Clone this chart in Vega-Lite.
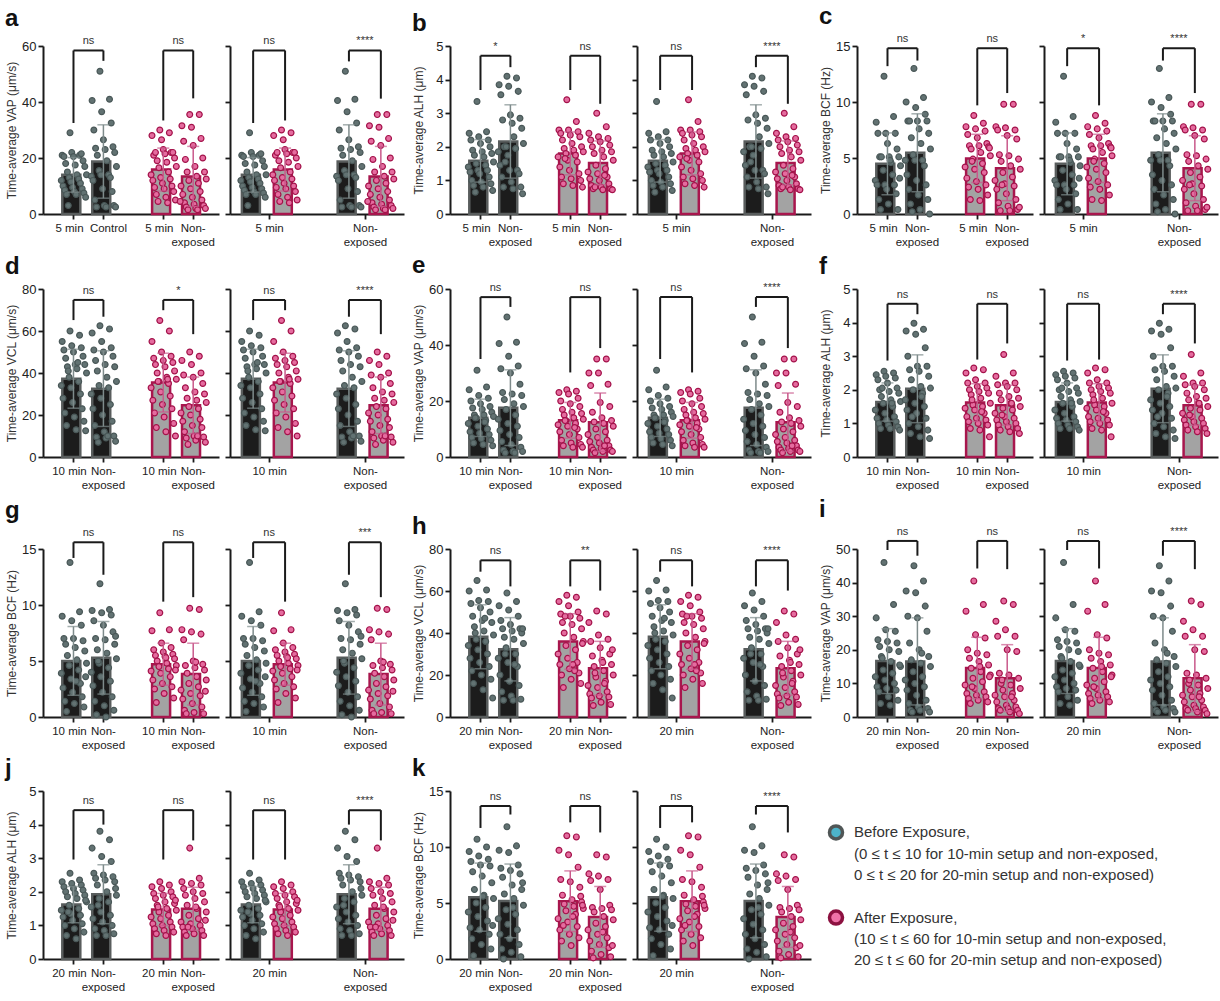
{
"$schema":"https://vega.github.io/schema/vega-lite/v6.json",
"background":"white",
"padding":5,
"datasets":{
"pts":[
{"p":"a","k":"AB","v":[29,21,21,22,21.5,20.5,20.5,19,18,17.5,17,15,14,14,13,12.5,12,11.5,11,10,9.5,9,8.5,8,7.5,7,7,6,3]},
{"p":"a","k":"NB","v":[51,41,40.5,36.5,32.5,30,26.5,24,23.5,23,22,21,19,17,15.5,14,13.5,14,13,12,9,8,5,3,3,2.5,2.5,2.5]},
{"p":"a","k":"AA","v":[30,29,28,26.5,22,21,23,22,22,21.5,20,19,18.5,17,16.5,15,14,13,12.5,12,11,10,9.5,9,8,7,6,5,4.5,4]},
{"p":"a","k":"NA","v":[35.5,35.5,31.5,31,27,26,24.5,20,19.5,17,15,15,13.5,12.5,12,11,10,9,8,7,6,5,4,3.5,3,2.5,2,2,1.5,1.5,4.5]},
{"p":"b","k":"AB","v":[3.35,2.45,2.4,2.3,2.2,2.2,2.1,2.0,1.9,1.85,1.8,1.75,1.7,1.55,1.5,1.45,1.4,1.3,1.3,1.25,1.2,1.1,1.0,0.95,0.9,0.85,0.8,0.7,0.65]},
{"p":"b","k":"NB","v":[4.1,4.05,3.85,3.8,3.65,3.55,2.95,2.85,2.8,2.7,2.55,2.0,2.3,2.1,2.0,1.95,1.85,1.75,1.3,1.45,1.3,1.2,1.1,0.95,0.8,0.8,0.75,0.6,1.55]},
{"p":"b","k":"AA","v":[3.4,2.75,2.5,2.5,2.45,2.4,2.35,2.3,2.2,2.1,2.0,1.95,1.9,1.85,1.8,1.75,1.7,1.6,1.55,1.4,1.3,1.2,1.1,1.05,1.0,0.9,0.85,0.8,1.65]},
{"p":"b","k":"NA","v":[3.0,2.6,2.4,2.3,2.25,2.2,2.15,2.05,2.0,1.9,1.85,1.8,1.7,1.6,1.45,1.35,1.25,1.2,1.1,1.05,1.0,0.9,0.85,0.8,0.75,0.75,0.72,0.72,0.8,1.15]},
{"p":"c","k":"AB","v":[12.3,8.7,8.2,7.2,7.2,7.2,6.3,5.8,5.1,5.1,5.1,5.1,4.6,4.3,3.9,3.5,3.0,2.6,2.6,2.6,2.2,1.8,1.3,0.9,0.4,0.4,4.8,3.2]},
{"p":"c","k":"NB","v":[13.0,10.4,10.0,9.5,8.9,8.3,8.3,8.3,8.3,7.6,7.2,6.8,6.3,5.8,5.3,4.8,4.8,4.8,4.3,3.5,3.0,2.6,2.2,1.7,1.3,0.9,0.4,0.0,0.2]},
{"p":"c","k":"AA","v":[8.8,8.1,7.8,7.6,7.4,7.1,6.8,6.3,6.1,6.1,6.0,5.8,5.5,5.2,4.9,4.5,4.2,4.0,3.7,3.2,2.9,2.6,2.4,2.2,1.7,1.3,1.2,5.9,4.7]},
{"p":"c","k":"NA","v":[9.8,9.8,7.8,7.7,7.5,7.5,7.0,6.7,5.3,5.2,4.9,4.7,4.3,4.0,3.7,3.3,3.0,2.7,2.5,2.2,1.8,1.3,1.0,0.7,0.4,0.3,0.3,0.6,2.6]},
{"p":"d","k":"AB","v":[60,58,55,53,52,51,50,48,47,44,44,43,42,40,38,36,34,33,30,28,26,23,21,19,17,15,13,12.5,41,45]},
{"p":"d","k":"NB","v":[62.5,61,59,55,52,51,50,48,46,44,43,41,38,36,34,33,30,28,25,23,20,17,15,12,10,9.5,9,7.5,7,10]},
{"p":"d","k":"AA","v":[65,60,55,50,48,47,46,45,44,43,41,40,38,37,36,35,33,31,29,27,25,23,21,19,16,14,12,10,36,37]},
{"p":"d","k":"NA","v":[50,48,46,44,40,39,38,35,33,31,30,28,27,26,24,23,21,20,18,17,15,14,12,10,9.5,9,8,7,6,10]},
{"p":"e","k":"AB","v":[31,25,24,22,21,20,19,18,17.5,17,16,15,15,14.5,14,13,12,11,10,9,8.5,8,7,6.5,6,5,4.5,4,14,12.5]},
{"p":"e","k":"NB","v":[50,41,40.5,36,32.5,31.5,30,26,23,22.5,22,20.5,19,18,17,15,13.5,12,11,9.5,8,7,5.5,4.5,3.5,2.5,2,2,1.5,1.5]},
{"p":"e","k":"AA","v":[24,23.5,23,22.5,21,20,19,18,17,16,15.5,15,14,13.5,13,12,11.5,11,10,9,8,7,6,5,4.5,4,3.5,3.5,13,10.5]},
{"p":"e","k":"NA","v":[35,35,30,30,26,25.5,19.5,18,16,14,13,12.5,12,11,10,9,8,7,6,5.5,5,4,3.5,3,2.5,2.5,2,2,1.5,4]},
{"p":"f","k":"AB","v":[2.55,2.5,2.45,2.4,2.35,2.3,2.2,2.05,2.0,1.95,1.9,1.8,1.7,1.65,1.6,1.5,1.4,1.3,1.2,1.15,1.1,1.05,1.0,0.95,0.9,0.85,0.85,0.8,2.05,1.6]},
{"p":"f","k":"NB","v":[3.98,3.8,3.75,3.65,3.25,3.0,2.7,2.7,2.6,2.55,2.4,2.3,2.1,2.05,2.0,1.9,1.7,1.6,1.5,1.4,1.3,1.15,1.0,0.9,0.8,0.7,0.6,0.55,1.2,1.8]},
{"p":"f","k":"AA","v":[2.65,2.6,2.5,2.3,2.2,2.2,2.1,2.05,2.0,1.95,1.9,1.85,1.75,1.6,1.55,1.5,1.45,1.4,1.3,1.2,1.15,1.1,1.05,1.0,0.95,0.85,0.8,0.6,1.7,1.35]},
{"p":"f","k":"NA","v":[3.05,2.5,2.4,2.2,2.2,2.15,2.1,2.0,1.9,1.8,1.75,1.7,1.6,1.5,1.45,1.4,1.3,1.2,1.15,1.1,1.05,1.0,0.95,0.9,0.85,0.8,0.75,0.7,1.25,1.6]},
{"p":"g","k":"AB","v":[13.8,9.4,9.0,8.6,8.2,7.0,7.0,6.8,6.5,6.2,5.9,5.5,5.1,4.8,4.6,4.2,3.9,3.4,3.0,2.6,2.2,1.8,1.4,1.2,0.9,0.5,3.2,3.6]},
{"p":"g","k":"NB","v":[11.9,9.6,9.5,9.3,9.1,8.6,8.2,7.6,7.0,6.9,6.5,6.0,5.7,5.2,4.8,4.4,4.0,3.6,3.2,2.8,2.2,1.8,1.4,1.0,0.6,0.2,0.0,7.2,5.0]},
{"p":"g","k":"AA","v":[9.3,7.8,7.7,6.6,6.2,6.0,5.8,5.6,5.5,5.4,5.2,5.0,4.8,4.6,4.5,4.3,4.1,3.9,3.6,3.3,3.0,2.7,2.5,2.1,1.7,1.3,5.3,4.2]},
{"p":"g","k":"NA","v":[9.7,9.6,7.8,7.6,7.4,6.9,5.0,4.7,4.6,4.4,4.2,3.9,3.6,3.3,3.0,2.7,2.4,2.1,1.9,1.6,1.2,0.9,0.6,0.4,0.3,0.3,4.9,2.3]},
{"p":"h","k":"AB","v":[65,60.5,60,55.5,55,54,52,50,48,46,45,43,41,39,37,36,34,32,30,28,26,24,22,20,18,16,13,9,40,47]},
{"p":"h","k":"NB","v":[59,55,53,51,48,46,44,42,42,41,40,38,37,35,33,30,28,26,24,20,17,15,12,10,8.5,8,8,42,30,25]},
{"p":"h","k":"AA","v":[58,57,55,53,50,49,48,47,45,44,42,40,38,36,34,32,30,28,26,25,23,21,20,18,16,14,25,35,48,22]},
{"p":"h","k":"NA","v":[50.5,49,45,39,37,36,33,30,29,27,25,24,22,20,19,17,15,14,12,11,10,9.5,9,7,6,5.5,26,32,21,16]},
{"p":"i","k":"AB","v":[46,33.5,29.5,26,25.5,23,22.5,22,21,20,19.5,18,16.5,15,14,13,12,11,10,9,8.5,8,7.5,6,5,4,3.5,15.5,17.5]},
{"p":"i","k":"NB","v":[45,40.5,37.5,37,33,30,29.5,25.5,22,20,18,17,16,15,13.5,12,11,10,9,8,6.5,5,4,3,2.5,2,2,1.5,1.5,19]},
{"p":"i","k":"AA","v":[40.5,33.5,31.5,24.5,23.5,20,19,18.5,17.5,16.5,15.5,14.5,13.5,12.5,11.5,10.5,9.5,8.5,7.5,7,6.5,6,5.5,5,4.5,4,15,12,9]},
{"p":"i","k":"NA","v":[34.5,33.5,28.5,26,24,24,20,19.5,13,12.5,11.5,10,9.5,8.5,8,7,6.5,6,5,4.5,3.5,3,2.5,2.5,2,2,1.5,1,11,6]},
{"p":"j","k":"AB","v":[2.55,2.35,2.3,2.25,2.2,2.15,2.1,2.05,2.0,1.95,1.9,1.85,1.8,1.7,1.6,1.5,1.45,1.35,1.3,1.25,1.15,1.05,1.0,0.9,0.8,0.7,0.6,1.75,1.4]},
{"p":"j","k":"NB","v":[3.8,3.55,3.3,3.05,2.9,2.55,2.5,2.45,2.4,2.35,2.3,2.2,2.0,1.9,1.8,1.7,1.55,1.4,1.3,1.2,1.1,1.0,0.9,0.85,0.75,0.7,0.7,2.1,1.6]},
{"p":"j","k":"AA","v":[2.3,2.2,2.15,2.1,2.0,1.95,1.9,1.85,1.8,1.7,1.65,1.6,1.5,1.45,1.4,1.3,1.25,1.2,1.1,1.05,1.0,0.95,0.9,0.85,0.8,0.75,0.7,1.75,1.55]},
{"p":"j","k":"NA","v":[3.3,2.4,2.3,2.25,2.2,2.1,2.0,1.95,1.9,1.8,1.7,1.6,1.5,1.4,1.3,1.2,1.1,1.05,1.0,0.95,0.9,0.85,0.8,0.75,0.7,0.7,1.55,1.15,0.95]},
{"p":"k","k":"AB","v":[10.7,10.0,9.6,9.2,8.9,8.7,8.4,8.3,7.8,7.4,6.8,6.2,5.7,5.4,5.0,4.6,4.2,3.8,3.4,2.8,2.6,2.2,1.8,1.3,0.9,0.3,5.6,3.0]},
{"p":"k","k":"NB","v":[11.8,10.1,9.7,9.5,8.4,8.1,7.9,7.6,7.3,6.6,6.2,5.8,5.4,4.8,4.4,4.0,3.6,3.1,2.6,2.2,1.8,1.3,0.9,0.6,0.2,0.0,4.6,6.8]},
{"p":"k","k":"AA","v":[11.0,10.9,9.7,9.3,8.2,7.1,6.9,6.4,5.7,5.3,5.1,4.9,4.7,4.5,4.3,4.0,3.6,3.3,2.9,2.6,2.2,1.9,1.6,1.2,5.6,3.0,3.8,4.8]},
{"p":"k","k":"NA","v":[9.3,9.1,7.6,7.4,7.1,7.0,6.2,4.8,4.6,4.5,4.4,4.2,3.8,3.5,3.2,2.9,2.6,2.2,1.9,1.6,1.3,1.0,0.7,0.4,0.2,0.1,2.4,1.2]}
],
"br":[
{"p":"a","s":"L","a":"AB","b":"NB","ya":32.5,"yb":54.7,"top":58.4,"lab":"ns"},
{"p":"a","s":"L","a":"AA","b":"NA","ya":33.4,"yb":41.3,"top":58.4,"lab":"ns"},
{"p":"a","s":"R","a":"AB","b":"AA","ya":32.5,"yb":33.4,"top":58.4,"lab":"ns"},
{"p":"a","s":"R","a":"NB","b":"NA","ya":54.5,"yb":41.2,"top":58.4,"lab":"****"},
{"p":"b","s":"L","a":"AB","b":"NB","ya":3.69,"yb":4.37,"top":4.71,"lab":"*"},
{"p":"b","s":"L","a":"AA","b":"NA","ya":3.69,"yb":3.28,"top":4.71,"lab":"ns"},
{"p":"b","s":"R","a":"AB","b":"AA","ya":3.69,"yb":3.69,"top":4.71,"lab":"ns"},
{"p":"b","s":"R","a":"NB","b":"NA","ya":4.37,"yb":3.28,"top":4.71,"lab":"****"},
{"p":"c","s":"L","a":"AB","b":"NB","ya":13.2,"yb":13.7,"top":14.8,"lab":"ns"},
{"p":"c","s":"L","a":"AA","b":"NA","ya":9.7,"yb":10.8,"top":14.8,"lab":"ns"},
{"p":"c","s":"R","a":"AB","b":"AA","ya":13.2,"yb":9.7,"top":14.8,"lab":"*"},
{"p":"c","s":"R","a":"NB","b":"NA","ya":13.7,"yb":10.8,"top":14.8,"lab":"****"},
{"p":"d","s":"L","a":"AB","b":"NB","ya":65.2,"yb":66.8,"top":74.8,"lab":"ns"},
{"p":"d","s":"L","a":"AA","b":"NA","ya":69.9,"yb":58.5,"top":74.8,"lab":"*"},
{"p":"d","s":"R","a":"AB","b":"AA","ya":65.2,"yb":69.9,"top":74.8,"lab":"ns"},
{"p":"d","s":"R","a":"NB","b":"NA","ya":66.8,"yb":58.5,"top":74.8,"lab":"****"},
{"p":"e","s":"L","a":"AB","b":"NB","ya":35,"yb":53.6,"top":57.1,"lab":"ns"},
{"p":"e","s":"L","a":"AA","b":"NA","ya":30.2,"yb":38.9,"top":57.1,"lab":"ns"},
{"p":"e","s":"R","a":"AB","b":"AA","ya":35,"yb":30.2,"top":57.1,"lab":"ns"},
{"p":"e","s":"R","a":"NB","b":"NA","ya":53.6,"yb":38.9,"top":57.1,"lab":"****"},
{"p":"f","s":"L","a":"AB","b":"NB","ya":2.87,"yb":4.25,"top":4.56,"lab":"ns"},
{"p":"f","s":"L","a":"AA","b":"NA","ya":2.9,"yb":3.38,"top":4.56,"lab":"ns"},
{"p":"f","s":"R","a":"AB","b":"AA","ya":2.87,"yb":2.9,"top":4.56,"lab":"ns"},
{"p":"f","s":"R","a":"NB","b":"NA","ya":4.25,"yb":3.38,"top":4.56,"lab":"****"},
{"p":"g","s":"L","a":"AB","b":"NB","ya":14.2,"yb":12.7,"top":15.6,"lab":"ns"},
{"p":"g","s":"L","a":"AA","b":"NA","ya":10.3,"yb":10.7,"top":15.6,"lab":"ns"},
{"p":"g","s":"R","a":"AB","b":"AA","ya":14.2,"yb":10.3,"top":15.6,"lab":"ns"},
{"p":"g","s":"R","a":"NB","b":"NA","ya":12.7,"yb":10.7,"top":15.6,"lab":"***"},
{"p":"h","s":"L","a":"AB","b":"NB","ya":69.2,"yb":62.2,"top":74.6,"lab":"ns"},
{"p":"h","s":"L","a":"AA","b":"NA","ya":62.2,"yb":60.2,"top":74.6,"lab":"**"},
{"p":"h","s":"R","a":"AB","b":"AA","ya":69.2,"yb":62.2,"top":74.6,"lab":"ns"},
{"p":"h","s":"R","a":"NB","b":"NA","ya":62.2,"yb":60.2,"top":74.6,"lab":"****"},
{"p":"i","s":"L","a":"AB","b":"NB","ya":49.7,"yb":48,"top":52.4,"lab":"ns"},
{"p":"i","s":"L","a":"AA","b":"NA","ya":44.2,"yb":44,"top":52.4,"lab":"ns"},
{"p":"i","s":"R","a":"AB","b":"AA","ya":49.7,"yb":44.2,"top":52.4,"lab":"ns"},
{"p":"i","s":"R","a":"NB","b":"NA","ya":48,"yb":44,"top":52.4,"lab":"****"},
{"p":"j","s":"L","a":"AB","b":"NB","ya":2.96,"yb":4.0,"top":4.43,"lab":"ns"},
{"p":"j","s":"L","a":"AA","b":"NA","ya":2.96,"yb":3.53,"top":4.43,"lab":"ns"},
{"p":"j","s":"R","a":"AB","b":"AA","ya":2.96,"yb":2.96,"top":4.43,"lab":"ns"},
{"p":"j","s":"R","a":"NB","b":"NA","ya":4.0,"yb":3.53,"top":4.43,"lab":"****"},
{"p":"k","s":"L","a":"AB","b":"NB","ya":11.7,"yb":12.9,"top":13.66,"lab":"ns"},
{"p":"k","s":"L","a":"AA","b":"NA","ya":12.2,"yb":11.3,"top":13.66,"lab":"ns"},
{"p":"k","s":"R","a":"AB","b":"AA","ya":11.7,"yb":12.2,"top":13.66,"lab":"ns"},
{"p":"k","s":"R","a":"NB","b":"NA","ya":12.9,"yb":11.3,"top":13.66,"lab":"****"}
]
},
"data":{"name":"pts"},
"transform":[{"flatten":["v"]},{"window":[{"op":"row_number","as":"i"}],"groupby":["p","k"]}],
"config":{
"font":"Liberation Sans",
"view":{"stroke":null},
"axis":{"domainColor":"#1a1a1a","domainWidth":2,"tickColor":"#1a1a1a","tickWidth":1.8,"tickSize":5,"labelFontSize":11.5,"labelColor":"#222","titleFontSize":12,"titleFontWeight":"normal","titleColor":"#333","grid":false,"labelPadding":2,"titlePadding":3,"labelLineHeight":14},
"axisX":{"labelAngle":0,"labelPadding":3,"bandPosition":0.5},
"axisY":{"labelFontSize":13,"minExtent":22},
"rule":{"color":"#1a1a1a","strokeWidth":2},
"text":{"fontSize":11,"color":"#333"},
"title":{"fontSize":24,"fontWeight":"bold","anchor":"start","offset":0,"color":"#111"}
},
"spacing":6,
"vconcat":[
{"spacing":8,"hconcat":[
{"title":"a","spacing":5,"hconcat":[
{"width":176,"height":168,"transform":[{"filter":"datum.p=='a'"}],
"encoding":{"x":{"field":"k","type":"nominal","scale":{"domain":["AB","NB","_","AA","NA"],"paddingInner":0.1,"paddingOuter":0.49,"align":0.58},"axis":{"values":["AB","NB","AA","NA"],"labelExpr":"datum.value=='NB'?'Control':datum.value=='NA'?['Non-','exposed']:'5 min'","labelOffset":{"condition":[{"test":"datum.value=='AB'||datum.value=='AA'","value":-4},{"test":"datum.value=='NB'","value":5}],"value":0},"title":null}},
"y":{"field":"v","type":"quantitative","scale":{"domain":[0,60]},"axis":{"values":[0,20,40,60],"title":"Time-average VAP (μm/s)"}}},
"layer":[
{"mark":{"type":"bar","strokeWidth":2.5,"width":{"band":0.83}},"encoding":{"y":{"aggregate":"mean","field":"v","type":"quantitative"},"fill":{"condition":{"test":"datum.k=='AB'||datum.k=='NB'","value":"#1c1c1c"},"value":"#a3a3a3"},"stroke":{"condition":{"test":"datum.k=='AB'||datum.k=='NB'","value":"#595d5d"},"value":"#a8164d"}}},
{"mark":{"type":"circle","size":34,"strokeWidth":1.2,"opacity":1},"encoding":{"xOffset":{"field":"i","type":"nominal","scale":{"domain":[31,17,3,20,6,23,9,26,12,29,15,1,18,4,21,7,24,10,27,13,30,16,2,19,5,22,8,25,11,28,14]}},"fill":{"condition":{"test":"datum.k=='AB'||datum.k=='NB'","value":"#627272"},"value":"#e56c9f"},"stroke":{"condition":{"test":"datum.k=='AB'||datum.k=='NB'","value":"#4a5858"},"value":"#a3124a"}}},
{"mark":{"type":"errorbar","extent":"stdev","ticks":{"size":12},"thickness":1.5},"encoding":{"color":{"condition":{"test":"datum.k=='AB'||datum.k=='NB'","value":"#7e8b8b"},"value":"#c9598b"}}},
{"data":{"name":"br"},"transform":[{"filter":"datum.p=='a'&&datum.s=='L'"}],"layer":[
{"mark":"rule","encoding":{"x":{"field":"a","type":"nominal"},"y":{"field":"ya","type":"quantitative"},"y2":{"field":"top"}}},
{"mark":"rule","encoding":{"x":{"field":"b","type":"nominal"},"y":{"field":"yb","type":"quantitative"},"y2":{"field":"top"}}},
{"mark":"rule","encoding":{"x":{"field":"a","type":"nominal"},"x2":{"field":"b"},"y":{"field":"top","type":"quantitative"}}},
{"mark":{"type":"text","dx":15,"dy":-4,"baseline":"bottom"},"encoding":{"x":{"field":"a","type":"nominal"},"y":{"field":"top","type":"quantitative"},"text":{"field":"lab"}}}
]}
]},
{"width":174,"height":168,"transform":[{"filter":"datum.p=='a'"}],
"encoding":{"x":{"field":"k","type":"nominal","scale":{"domain":["AB","AA","_","NB","NA"],"paddingInner":0.15,"paddingOuter":0.3},"axis":{"values":["AB","NB"],"labelExpr":"datum.value=='AB'?'5 min':['Non-','exposed']","tickOffset":16,"title":null}},
"y":{"field":"v","type":"quantitative","scale":{"domain":[0,60]},"axis":{"values":[0,20,40,60],"labels":false,"title":null,"minExtent":0}}},
"layer":[
{"mark":{"type":"bar","strokeWidth":2.5,"width":{"band":0.83}},"encoding":{"y":{"aggregate":"mean","field":"v","type":"quantitative"},"fill":{"condition":{"test":"datum.k=='AB'||datum.k=='NB'","value":"#1c1c1c"},"value":"#a3a3a3"},"stroke":{"condition":{"test":"datum.k=='AB'||datum.k=='NB'","value":"#595d5d"},"value":"#a8164d"}}},
{"mark":{"type":"circle","size":34,"strokeWidth":1.2,"opacity":1},"encoding":{"xOffset":{"field":"i","type":"nominal","scale":{"domain":[31,17,3,20,6,23,9,26,12,29,15,1,18,4,21,7,24,10,27,13,30,16,2,19,5,22,8,25,11,28,14]}},"fill":{"condition":{"test":"datum.k=='AB'||datum.k=='NB'","value":"#627272"},"value":"#e56c9f"},"stroke":{"condition":{"test":"datum.k=='AB'||datum.k=='NB'","value":"#4a5858"},"value":"#a3124a"}}},
{"mark":{"type":"errorbar","extent":"stdev","ticks":{"size":12},"thickness":1.5},"encoding":{"color":{"condition":{"test":"datum.k=='AB'||datum.k=='NB'","value":"#7e8b8b"},"value":"#c9598b"}}},
{"data":{"name":"br"},"transform":[{"filter":"datum.p=='a'&&datum.s=='R'"}],"layer":[
{"mark":"rule","encoding":{"x":{"field":"a","type":"nominal"},"y":{"field":"ya","type":"quantitative"},"y2":{"field":"top"}}},
{"mark":"rule","encoding":{"x":{"field":"b","type":"nominal"},"y":{"field":"yb","type":"quantitative"},"y2":{"field":"top"}}},
{"mark":"rule","encoding":{"x":{"field":"a","type":"nominal"},"x2":{"field":"b"},"y":{"field":"top","type":"quantitative"}}},
{"mark":{"type":"text","dx":16,"dy":-4,"baseline":"bottom"},"encoding":{"x":{"field":"a","type":"nominal"},"y":{"field":"top","type":"quantitative"},"text":{"field":"lab"}}}
]}
]}
]},
{"title":"b","spacing":5,"hconcat":[
{"width":176,"height":168,"transform":[{"filter":"datum.p=='b'"}],
"encoding":{"x":{"field":"k","type":"nominal","scale":{"domain":["AB","NB","_","AA","NA"],"paddingInner":0.1,"paddingOuter":0.49,"align":0.58},"axis":{"values":["AB","NB","AA","NA"],"labelExpr":"datum.value=='NB'||datum.value=='NA'?['Non-','exposed']:'5 min'","labelOffset":{"condition":{"test":"datum.value=='AB'||datum.value=='AA'","value":-4},"value":0},"title":null}},
"y":{"field":"v","type":"quantitative","scale":{"domain":[0,5]},"axis":{"values":[0,1,2,3,4,5],"title":"Time-average ALH (μm)"}}},
"layer":[
{"mark":{"type":"bar","strokeWidth":2.5,"width":{"band":0.83}},"encoding":{"y":{"aggregate":"mean","field":"v","type":"quantitative"},"fill":{"condition":{"test":"datum.k=='AB'||datum.k=='NB'","value":"#1c1c1c"},"value":"#a3a3a3"},"stroke":{"condition":{"test":"datum.k=='AB'||datum.k=='NB'","value":"#595d5d"},"value":"#a8164d"}}},
{"mark":{"type":"circle","size":34,"strokeWidth":1.2,"opacity":1},"encoding":{"xOffset":{"field":"i","type":"nominal","scale":{"domain":[31,17,3,20,6,23,9,26,12,29,15,1,18,4,21,7,24,10,27,13,30,16,2,19,5,22,8,25,11,28,14]}},"fill":{"condition":{"test":"datum.k=='AB'||datum.k=='NB'","value":"#627272"},"value":"#e56c9f"},"stroke":{"condition":{"test":"datum.k=='AB'||datum.k=='NB'","value":"#4a5858"},"value":"#a3124a"}}},
{"mark":{"type":"errorbar","extent":"stdev","ticks":{"size":12},"thickness":1.5},"encoding":{"color":{"condition":{"test":"datum.k=='AB'||datum.k=='NB'","value":"#7e8b8b"},"value":"#c9598b"}}},
{"data":{"name":"br"},"transform":[{"filter":"datum.p=='b'&&datum.s=='L'"}],"layer":[
{"mark":"rule","encoding":{"x":{"field":"a","type":"nominal"},"y":{"field":"ya","type":"quantitative"},"y2":{"field":"top"}}},
{"mark":"rule","encoding":{"x":{"field":"b","type":"nominal"},"y":{"field":"yb","type":"quantitative"},"y2":{"field":"top"}}},
{"mark":"rule","encoding":{"x":{"field":"a","type":"nominal"},"x2":{"field":"b"},"y":{"field":"top","type":"quantitative"}}},
{"mark":{"type":"text","dx":15,"dy":-4,"baseline":"bottom"},"encoding":{"x":{"field":"a","type":"nominal"},"y":{"field":"top","type":"quantitative"},"text":{"field":"lab"}}}
]}
]},
{"width":174,"height":168,"transform":[{"filter":"datum.p=='b'"}],
"encoding":{"x":{"field":"k","type":"nominal","scale":{"domain":["AB","AA","_","NB","NA"],"paddingInner":0.15,"paddingOuter":0.3},"axis":{"values":["AB","NB"],"labelExpr":"datum.value=='AB'?'5 min':['Non-','exposed']","tickOffset":16,"title":null}},
"y":{"field":"v","type":"quantitative","scale":{"domain":[0,5]},"axis":{"values":[0,1,2,3,4,5],"labels":false,"title":null,"minExtent":0}}},
"layer":[
{"mark":{"type":"bar","strokeWidth":2.5,"width":{"band":0.83}},"encoding":{"y":{"aggregate":"mean","field":"v","type":"quantitative"},"fill":{"condition":{"test":"datum.k=='AB'||datum.k=='NB'","value":"#1c1c1c"},"value":"#a3a3a3"},"stroke":{"condition":{"test":"datum.k=='AB'||datum.k=='NB'","value":"#595d5d"},"value":"#a8164d"}}},
{"mark":{"type":"circle","size":34,"strokeWidth":1.2,"opacity":1},"encoding":{"xOffset":{"field":"i","type":"nominal","scale":{"domain":[31,17,3,20,6,23,9,26,12,29,15,1,18,4,21,7,24,10,27,13,30,16,2,19,5,22,8,25,11,28,14]}},"fill":{"condition":{"test":"datum.k=='AB'||datum.k=='NB'","value":"#627272"},"value":"#e56c9f"},"stroke":{"condition":{"test":"datum.k=='AB'||datum.k=='NB'","value":"#4a5858"},"value":"#a3124a"}}},
{"mark":{"type":"errorbar","extent":"stdev","ticks":{"size":12},"thickness":1.5},"encoding":{"color":{"condition":{"test":"datum.k=='AB'||datum.k=='NB'","value":"#7e8b8b"},"value":"#c9598b"}}},
{"data":{"name":"br"},"transform":[{"filter":"datum.p=='b'&&datum.s=='R'"}],"layer":[
{"mark":"rule","encoding":{"x":{"field":"a","type":"nominal"},"y":{"field":"ya","type":"quantitative"},"y2":{"field":"top"}}},
{"mark":"rule","encoding":{"x":{"field":"b","type":"nominal"},"y":{"field":"yb","type":"quantitative"},"y2":{"field":"top"}}},
{"mark":"rule","encoding":{"x":{"field":"a","type":"nominal"},"x2":{"field":"b"},"y":{"field":"top","type":"quantitative"}}},
{"mark":{"type":"text","dx":16,"dy":-4,"baseline":"bottom"},"encoding":{"x":{"field":"a","type":"nominal"},"y":{"field":"top","type":"quantitative"},"text":{"field":"lab"}}}
]}
]}
]},
{"title":"c","spacing":5,"hconcat":[
{"width":176,"height":168,"transform":[{"filter":"datum.p=='c'"}],
"encoding":{"x":{"field":"k","type":"nominal","scale":{"domain":["AB","NB","_","AA","NA"],"paddingInner":0.1,"paddingOuter":0.49,"align":0.58},"axis":{"values":["AB","NB","AA","NA"],"labelExpr":"datum.value=='NB'||datum.value=='NA'?['Non-','exposed']:'5 min'","labelOffset":{"condition":{"test":"datum.value=='AB'||datum.value=='AA'","value":-4},"value":0},"title":null}},
"y":{"field":"v","type":"quantitative","scale":{"domain":[0,15]},"axis":{"values":[0,5,10,15],"title":"Time-average BCF (Hz)"}}},
"layer":[
{"mark":{"type":"bar","strokeWidth":2.5,"width":{"band":0.83}},"encoding":{"y":{"aggregate":"mean","field":"v","type":"quantitative"},"fill":{"condition":{"test":"datum.k=='AB'||datum.k=='NB'","value":"#1c1c1c"},"value":"#a3a3a3"},"stroke":{"condition":{"test":"datum.k=='AB'||datum.k=='NB'","value":"#595d5d"},"value":"#a8164d"}}},
{"mark":{"type":"circle","size":34,"strokeWidth":1.2,"opacity":1},"encoding":{"xOffset":{"field":"i","type":"nominal","scale":{"domain":[31,17,3,20,6,23,9,26,12,29,15,1,18,4,21,7,24,10,27,13,30,16,2,19,5,22,8,25,11,28,14]}},"fill":{"condition":{"test":"datum.k=='AB'||datum.k=='NB'","value":"#627272"},"value":"#e56c9f"},"stroke":{"condition":{"test":"datum.k=='AB'||datum.k=='NB'","value":"#4a5858"},"value":"#a3124a"}}},
{"mark":{"type":"errorbar","extent":"stdev","ticks":{"size":12},"thickness":1.5},"encoding":{"color":{"condition":{"test":"datum.k=='AB'||datum.k=='NB'","value":"#7e8b8b"},"value":"#c9598b"}}},
{"data":{"name":"br"},"transform":[{"filter":"datum.p=='c'&&datum.s=='L'"}],"layer":[
{"mark":"rule","encoding":{"x":{"field":"a","type":"nominal"},"y":{"field":"ya","type":"quantitative"},"y2":{"field":"top"}}},
{"mark":"rule","encoding":{"x":{"field":"b","type":"nominal"},"y":{"field":"yb","type":"quantitative"},"y2":{"field":"top"}}},
{"mark":"rule","encoding":{"x":{"field":"a","type":"nominal"},"x2":{"field":"b"},"y":{"field":"top","type":"quantitative"}}},
{"mark":{"type":"text","dx":15,"dy":-4,"baseline":"bottom"},"encoding":{"x":{"field":"a","type":"nominal"},"y":{"field":"top","type":"quantitative"},"text":{"field":"lab"}}}
]}
]},
{"width":174,"height":168,"transform":[{"filter":"datum.p=='c'"}],
"encoding":{"x":{"field":"k","type":"nominal","scale":{"domain":["AB","AA","_","NB","NA"],"paddingInner":0.15,"paddingOuter":0.3},"axis":{"values":["AB","NB"],"labelExpr":"datum.value=='AB'?'5 min':['Non-','exposed']","tickOffset":16,"title":null}},
"y":{"field":"v","type":"quantitative","scale":{"domain":[0,15]},"axis":{"values":[0,5,10,15],"labels":false,"title":null,"minExtent":0}}},
"layer":[
{"mark":{"type":"bar","strokeWidth":2.5,"width":{"band":0.83}},"encoding":{"y":{"aggregate":"mean","field":"v","type":"quantitative"},"fill":{"condition":{"test":"datum.k=='AB'||datum.k=='NB'","value":"#1c1c1c"},"value":"#a3a3a3"},"stroke":{"condition":{"test":"datum.k=='AB'||datum.k=='NB'","value":"#595d5d"},"value":"#a8164d"}}},
{"mark":{"type":"circle","size":34,"strokeWidth":1.2,"opacity":1},"encoding":{"xOffset":{"field":"i","type":"nominal","scale":{"domain":[31,17,3,20,6,23,9,26,12,29,15,1,18,4,21,7,24,10,27,13,30,16,2,19,5,22,8,25,11,28,14]}},"fill":{"condition":{"test":"datum.k=='AB'||datum.k=='NB'","value":"#627272"},"value":"#e56c9f"},"stroke":{"condition":{"test":"datum.k=='AB'||datum.k=='NB'","value":"#4a5858"},"value":"#a3124a"}}},
{"mark":{"type":"errorbar","extent":"stdev","ticks":{"size":12},"thickness":1.5},"encoding":{"color":{"condition":{"test":"datum.k=='AB'||datum.k=='NB'","value":"#7e8b8b"},"value":"#c9598b"}}},
{"data":{"name":"br"},"transform":[{"filter":"datum.p=='c'&&datum.s=='R'"}],"layer":[
{"mark":"rule","encoding":{"x":{"field":"a","type":"nominal"},"y":{"field":"ya","type":"quantitative"},"y2":{"field":"top"}}},
{"mark":"rule","encoding":{"x":{"field":"b","type":"nominal"},"y":{"field":"yb","type":"quantitative"},"y2":{"field":"top"}}},
{"mark":"rule","encoding":{"x":{"field":"a","type":"nominal"},"x2":{"field":"b"},"y":{"field":"top","type":"quantitative"}}},
{"mark":{"type":"text","dx":16,"dy":-4,"baseline":"bottom"},"encoding":{"x":{"field":"a","type":"nominal"},"y":{"field":"top","type":"quantitative"},"text":{"field":"lab"}}}
]}
]}
]}
]},
{"spacing":8,"hconcat":[
{"title":"d","spacing":5,"hconcat":[
{"width":176,"height":168,"transform":[{"filter":"datum.p=='d'"}],
"encoding":{"x":{"field":"k","type":"nominal","scale":{"domain":["AB","NB","_","AA","NA"],"paddingInner":0.1,"paddingOuter":0.49,"align":0.58},"axis":{"values":["AB","NB","AA","NA"],"labelExpr":"datum.value=='NB'||datum.value=='NA'?['Non-','exposed']:'10 min'","labelOffset":{"condition":{"test":"datum.value=='AB'||datum.value=='AA'","value":-4},"value":0},"title":null}},
"y":{"field":"v","type":"quantitative","scale":{"domain":[0,80]},"axis":{"values":[0,20,40,60,80],"title":"Time-average VCL (μm/s)"}}},
"layer":[
{"mark":{"type":"bar","strokeWidth":2.5,"width":{"band":0.83}},"encoding":{"y":{"aggregate":"mean","field":"v","type":"quantitative"},"fill":{"condition":{"test":"datum.k=='AB'||datum.k=='NB'","value":"#1c1c1c"},"value":"#a3a3a3"},"stroke":{"condition":{"test":"datum.k=='AB'||datum.k=='NB'","value":"#595d5d"},"value":"#a8164d"}}},
{"mark":{"type":"circle","size":34,"strokeWidth":1.2,"opacity":1},"encoding":{"xOffset":{"field":"i","type":"nominal","scale":{"domain":[31,17,3,20,6,23,9,26,12,29,15,1,18,4,21,7,24,10,27,13,30,16,2,19,5,22,8,25,11,28,14]}},"fill":{"condition":{"test":"datum.k=='AB'||datum.k=='NB'","value":"#627272"},"value":"#e56c9f"},"stroke":{"condition":{"test":"datum.k=='AB'||datum.k=='NB'","value":"#4a5858"},"value":"#a3124a"}}},
{"mark":{"type":"errorbar","extent":"stdev","ticks":{"size":12},"thickness":1.5},"encoding":{"color":{"condition":{"test":"datum.k=='AB'||datum.k=='NB'","value":"#7e8b8b"},"value":"#c9598b"}}},
{"data":{"name":"br"},"transform":[{"filter":"datum.p=='d'&&datum.s=='L'"}],"layer":[
{"mark":"rule","encoding":{"x":{"field":"a","type":"nominal"},"y":{"field":"ya","type":"quantitative"},"y2":{"field":"top"}}},
{"mark":"rule","encoding":{"x":{"field":"b","type":"nominal"},"y":{"field":"yb","type":"quantitative"},"y2":{"field":"top"}}},
{"mark":"rule","encoding":{"x":{"field":"a","type":"nominal"},"x2":{"field":"b"},"y":{"field":"top","type":"quantitative"}}},
{"mark":{"type":"text","dx":15,"dy":-4,"baseline":"bottom"},"encoding":{"x":{"field":"a","type":"nominal"},"y":{"field":"top","type":"quantitative"},"text":{"field":"lab"}}}
]}
]},
{"width":174,"height":168,"transform":[{"filter":"datum.p=='d'"}],
"encoding":{"x":{"field":"k","type":"nominal","scale":{"domain":["AB","AA","_","NB","NA"],"paddingInner":0.15,"paddingOuter":0.3},"axis":{"values":["AB","NB"],"labelExpr":"datum.value=='AB'?'10 min':['Non-','exposed']","tickOffset":16,"title":null}},
"y":{"field":"v","type":"quantitative","scale":{"domain":[0,80]},"axis":{"values":[0,20,40,60,80],"labels":false,"title":null,"minExtent":0}}},
"layer":[
{"mark":{"type":"bar","strokeWidth":2.5,"width":{"band":0.83}},"encoding":{"y":{"aggregate":"mean","field":"v","type":"quantitative"},"fill":{"condition":{"test":"datum.k=='AB'||datum.k=='NB'","value":"#1c1c1c"},"value":"#a3a3a3"},"stroke":{"condition":{"test":"datum.k=='AB'||datum.k=='NB'","value":"#595d5d"},"value":"#a8164d"}}},
{"mark":{"type":"circle","size":34,"strokeWidth":1.2,"opacity":1},"encoding":{"xOffset":{"field":"i","type":"nominal","scale":{"domain":[31,17,3,20,6,23,9,26,12,29,15,1,18,4,21,7,24,10,27,13,30,16,2,19,5,22,8,25,11,28,14]}},"fill":{"condition":{"test":"datum.k=='AB'||datum.k=='NB'","value":"#627272"},"value":"#e56c9f"},"stroke":{"condition":{"test":"datum.k=='AB'||datum.k=='NB'","value":"#4a5858"},"value":"#a3124a"}}},
{"mark":{"type":"errorbar","extent":"stdev","ticks":{"size":12},"thickness":1.5},"encoding":{"color":{"condition":{"test":"datum.k=='AB'||datum.k=='NB'","value":"#7e8b8b"},"value":"#c9598b"}}},
{"data":{"name":"br"},"transform":[{"filter":"datum.p=='d'&&datum.s=='R'"}],"layer":[
{"mark":"rule","encoding":{"x":{"field":"a","type":"nominal"},"y":{"field":"ya","type":"quantitative"},"y2":{"field":"top"}}},
{"mark":"rule","encoding":{"x":{"field":"b","type":"nominal"},"y":{"field":"yb","type":"quantitative"},"y2":{"field":"top"}}},
{"mark":"rule","encoding":{"x":{"field":"a","type":"nominal"},"x2":{"field":"b"},"y":{"field":"top","type":"quantitative"}}},
{"mark":{"type":"text","dx":16,"dy":-4,"baseline":"bottom"},"encoding":{"x":{"field":"a","type":"nominal"},"y":{"field":"top","type":"quantitative"},"text":{"field":"lab"}}}
]}
]}
]},
{"title":"e","spacing":5,"hconcat":[
{"width":176,"height":168,"transform":[{"filter":"datum.p=='e'"}],
"encoding":{"x":{"field":"k","type":"nominal","scale":{"domain":["AB","NB","_","AA","NA"],"paddingInner":0.1,"paddingOuter":0.49,"align":0.58},"axis":{"values":["AB","NB","AA","NA"],"labelExpr":"datum.value=='NB'||datum.value=='NA'?['Non-','exposed']:'10 min'","labelOffset":{"condition":{"test":"datum.value=='AB'||datum.value=='AA'","value":-4},"value":0},"title":null}},
"y":{"field":"v","type":"quantitative","scale":{"domain":[0,60]},"axis":{"values":[0,20,40,60],"title":"Time-average VAP (μm/s)"}}},
"layer":[
{"mark":{"type":"bar","strokeWidth":2.5,"width":{"band":0.83}},"encoding":{"y":{"aggregate":"mean","field":"v","type":"quantitative"},"fill":{"condition":{"test":"datum.k=='AB'||datum.k=='NB'","value":"#1c1c1c"},"value":"#a3a3a3"},"stroke":{"condition":{"test":"datum.k=='AB'||datum.k=='NB'","value":"#595d5d"},"value":"#a8164d"}}},
{"mark":{"type":"circle","size":34,"strokeWidth":1.2,"opacity":1},"encoding":{"xOffset":{"field":"i","type":"nominal","scale":{"domain":[31,17,3,20,6,23,9,26,12,29,15,1,18,4,21,7,24,10,27,13,30,16,2,19,5,22,8,25,11,28,14]}},"fill":{"condition":{"test":"datum.k=='AB'||datum.k=='NB'","value":"#627272"},"value":"#e56c9f"},"stroke":{"condition":{"test":"datum.k=='AB'||datum.k=='NB'","value":"#4a5858"},"value":"#a3124a"}}},
{"mark":{"type":"errorbar","extent":"stdev","ticks":{"size":12},"thickness":1.5},"encoding":{"color":{"condition":{"test":"datum.k=='AB'||datum.k=='NB'","value":"#7e8b8b"},"value":"#c9598b"}}},
{"data":{"name":"br"},"transform":[{"filter":"datum.p=='e'&&datum.s=='L'"}],"layer":[
{"mark":"rule","encoding":{"x":{"field":"a","type":"nominal"},"y":{"field":"ya","type":"quantitative"},"y2":{"field":"top"}}},
{"mark":"rule","encoding":{"x":{"field":"b","type":"nominal"},"y":{"field":"yb","type":"quantitative"},"y2":{"field":"top"}}},
{"mark":"rule","encoding":{"x":{"field":"a","type":"nominal"},"x2":{"field":"b"},"y":{"field":"top","type":"quantitative"}}},
{"mark":{"type":"text","dx":15,"dy":-4,"baseline":"bottom"},"encoding":{"x":{"field":"a","type":"nominal"},"y":{"field":"top","type":"quantitative"},"text":{"field":"lab"}}}
]}
]},
{"width":174,"height":168,"transform":[{"filter":"datum.p=='e'"}],
"encoding":{"x":{"field":"k","type":"nominal","scale":{"domain":["AB","AA","_","NB","NA"],"paddingInner":0.15,"paddingOuter":0.3},"axis":{"values":["AB","NB"],"labelExpr":"datum.value=='AB'?'10 min':['Non-','exposed']","tickOffset":16,"title":null}},
"y":{"field":"v","type":"quantitative","scale":{"domain":[0,60]},"axis":{"values":[0,20,40,60],"labels":false,"title":null,"minExtent":0}}},
"layer":[
{"mark":{"type":"bar","strokeWidth":2.5,"width":{"band":0.83}},"encoding":{"y":{"aggregate":"mean","field":"v","type":"quantitative"},"fill":{"condition":{"test":"datum.k=='AB'||datum.k=='NB'","value":"#1c1c1c"},"value":"#a3a3a3"},"stroke":{"condition":{"test":"datum.k=='AB'||datum.k=='NB'","value":"#595d5d"},"value":"#a8164d"}}},
{"mark":{"type":"circle","size":34,"strokeWidth":1.2,"opacity":1},"encoding":{"xOffset":{"field":"i","type":"nominal","scale":{"domain":[31,17,3,20,6,23,9,26,12,29,15,1,18,4,21,7,24,10,27,13,30,16,2,19,5,22,8,25,11,28,14]}},"fill":{"condition":{"test":"datum.k=='AB'||datum.k=='NB'","value":"#627272"},"value":"#e56c9f"},"stroke":{"condition":{"test":"datum.k=='AB'||datum.k=='NB'","value":"#4a5858"},"value":"#a3124a"}}},
{"mark":{"type":"errorbar","extent":"stdev","ticks":{"size":12},"thickness":1.5},"encoding":{"color":{"condition":{"test":"datum.k=='AB'||datum.k=='NB'","value":"#7e8b8b"},"value":"#c9598b"}}},
{"data":{"name":"br"},"transform":[{"filter":"datum.p=='e'&&datum.s=='R'"}],"layer":[
{"mark":"rule","encoding":{"x":{"field":"a","type":"nominal"},"y":{"field":"ya","type":"quantitative"},"y2":{"field":"top"}}},
{"mark":"rule","encoding":{"x":{"field":"b","type":"nominal"},"y":{"field":"yb","type":"quantitative"},"y2":{"field":"top"}}},
{"mark":"rule","encoding":{"x":{"field":"a","type":"nominal"},"x2":{"field":"b"},"y":{"field":"top","type":"quantitative"}}},
{"mark":{"type":"text","dx":16,"dy":-4,"baseline":"bottom"},"encoding":{"x":{"field":"a","type":"nominal"},"y":{"field":"top","type":"quantitative"},"text":{"field":"lab"}}}
]}
]}
]},
{"title":"f","spacing":5,"hconcat":[
{"width":176,"height":168,"transform":[{"filter":"datum.p=='f'"}],
"encoding":{"x":{"field":"k","type":"nominal","scale":{"domain":["AB","NB","_","AA","NA"],"paddingInner":0.1,"paddingOuter":0.49,"align":0.58},"axis":{"values":["AB","NB","AA","NA"],"labelExpr":"datum.value=='NB'||datum.value=='NA'?['Non-','exposed']:'10 min'","labelOffset":{"condition":{"test":"datum.value=='AB'||datum.value=='AA'","value":-4},"value":0},"title":null}},
"y":{"field":"v","type":"quantitative","scale":{"domain":[0,5]},"axis":{"values":[0,1,2,3,4,5],"title":"Time-average ALH (μm)"}}},
"layer":[
{"mark":{"type":"bar","strokeWidth":2.5,"width":{"band":0.83}},"encoding":{"y":{"aggregate":"mean","field":"v","type":"quantitative"},"fill":{"condition":{"test":"datum.k=='AB'||datum.k=='NB'","value":"#1c1c1c"},"value":"#a3a3a3"},"stroke":{"condition":{"test":"datum.k=='AB'||datum.k=='NB'","value":"#595d5d"},"value":"#a8164d"}}},
{"mark":{"type":"circle","size":34,"strokeWidth":1.2,"opacity":1},"encoding":{"xOffset":{"field":"i","type":"nominal","scale":{"domain":[31,17,3,20,6,23,9,26,12,29,15,1,18,4,21,7,24,10,27,13,30,16,2,19,5,22,8,25,11,28,14]}},"fill":{"condition":{"test":"datum.k=='AB'||datum.k=='NB'","value":"#627272"},"value":"#e56c9f"},"stroke":{"condition":{"test":"datum.k=='AB'||datum.k=='NB'","value":"#4a5858"},"value":"#a3124a"}}},
{"mark":{"type":"errorbar","extent":"stdev","ticks":{"size":12},"thickness":1.5},"encoding":{"color":{"condition":{"test":"datum.k=='AB'||datum.k=='NB'","value":"#7e8b8b"},"value":"#c9598b"}}},
{"data":{"name":"br"},"transform":[{"filter":"datum.p=='f'&&datum.s=='L'"}],"layer":[
{"mark":"rule","encoding":{"x":{"field":"a","type":"nominal"},"y":{"field":"ya","type":"quantitative"},"y2":{"field":"top"}}},
{"mark":"rule","encoding":{"x":{"field":"b","type":"nominal"},"y":{"field":"yb","type":"quantitative"},"y2":{"field":"top"}}},
{"mark":"rule","encoding":{"x":{"field":"a","type":"nominal"},"x2":{"field":"b"},"y":{"field":"top","type":"quantitative"}}},
{"mark":{"type":"text","dx":15,"dy":-4,"baseline":"bottom"},"encoding":{"x":{"field":"a","type":"nominal"},"y":{"field":"top","type":"quantitative"},"text":{"field":"lab"}}}
]}
]},
{"width":174,"height":168,"transform":[{"filter":"datum.p=='f'"}],
"encoding":{"x":{"field":"k","type":"nominal","scale":{"domain":["AB","AA","_","NB","NA"],"paddingInner":0.15,"paddingOuter":0.3},"axis":{"values":["AB","NB"],"labelExpr":"datum.value=='AB'?'10 min':['Non-','exposed']","tickOffset":16,"title":null}},
"y":{"field":"v","type":"quantitative","scale":{"domain":[0,5]},"axis":{"values":[0,1,2,3,4,5],"labels":false,"title":null,"minExtent":0}}},
"layer":[
{"mark":{"type":"bar","strokeWidth":2.5,"width":{"band":0.83}},"encoding":{"y":{"aggregate":"mean","field":"v","type":"quantitative"},"fill":{"condition":{"test":"datum.k=='AB'||datum.k=='NB'","value":"#1c1c1c"},"value":"#a3a3a3"},"stroke":{"condition":{"test":"datum.k=='AB'||datum.k=='NB'","value":"#595d5d"},"value":"#a8164d"}}},
{"mark":{"type":"circle","size":34,"strokeWidth":1.2,"opacity":1},"encoding":{"xOffset":{"field":"i","type":"nominal","scale":{"domain":[31,17,3,20,6,23,9,26,12,29,15,1,18,4,21,7,24,10,27,13,30,16,2,19,5,22,8,25,11,28,14]}},"fill":{"condition":{"test":"datum.k=='AB'||datum.k=='NB'","value":"#627272"},"value":"#e56c9f"},"stroke":{"condition":{"test":"datum.k=='AB'||datum.k=='NB'","value":"#4a5858"},"value":"#a3124a"}}},
{"mark":{"type":"errorbar","extent":"stdev","ticks":{"size":12},"thickness":1.5},"encoding":{"color":{"condition":{"test":"datum.k=='AB'||datum.k=='NB'","value":"#7e8b8b"},"value":"#c9598b"}}},
{"data":{"name":"br"},"transform":[{"filter":"datum.p=='f'&&datum.s=='R'"}],"layer":[
{"mark":"rule","encoding":{"x":{"field":"a","type":"nominal"},"y":{"field":"ya","type":"quantitative"},"y2":{"field":"top"}}},
{"mark":"rule","encoding":{"x":{"field":"b","type":"nominal"},"y":{"field":"yb","type":"quantitative"},"y2":{"field":"top"}}},
{"mark":"rule","encoding":{"x":{"field":"a","type":"nominal"},"x2":{"field":"b"},"y":{"field":"top","type":"quantitative"}}},
{"mark":{"type":"text","dx":16,"dy":-4,"baseline":"bottom"},"encoding":{"x":{"field":"a","type":"nominal"},"y":{"field":"top","type":"quantitative"},"text":{"field":"lab"}}}
]}
]}
]}
]},
{"spacing":8,"hconcat":[
{"title":"g","spacing":5,"hconcat":[
{"width":176,"height":168,"transform":[{"filter":"datum.p=='g'"}],
"encoding":{"x":{"field":"k","type":"nominal","scale":{"domain":["AB","NB","_","AA","NA"],"paddingInner":0.1,"paddingOuter":0.49,"align":0.58},"axis":{"values":["AB","NB","AA","NA"],"labelExpr":"datum.value=='NB'||datum.value=='NA'?['Non-','exposed']:'10 min'","labelOffset":{"condition":{"test":"datum.value=='AB'||datum.value=='AA'","value":-4},"value":0},"title":null}},
"y":{"field":"v","type":"quantitative","scale":{"domain":[0,15]},"axis":{"values":[0,5,10,15],"title":"Time-average BCF (Hz)"}}},
"layer":[
{"mark":{"type":"bar","strokeWidth":2.5,"width":{"band":0.83}},"encoding":{"y":{"aggregate":"mean","field":"v","type":"quantitative"},"fill":{"condition":{"test":"datum.k=='AB'||datum.k=='NB'","value":"#1c1c1c"},"value":"#a3a3a3"},"stroke":{"condition":{"test":"datum.k=='AB'||datum.k=='NB'","value":"#595d5d"},"value":"#a8164d"}}},
{"mark":{"type":"circle","size":34,"strokeWidth":1.2,"opacity":1},"encoding":{"xOffset":{"field":"i","type":"nominal","scale":{"domain":[31,17,3,20,6,23,9,26,12,29,15,1,18,4,21,7,24,10,27,13,30,16,2,19,5,22,8,25,11,28,14]}},"fill":{"condition":{"test":"datum.k=='AB'||datum.k=='NB'","value":"#627272"},"value":"#e56c9f"},"stroke":{"condition":{"test":"datum.k=='AB'||datum.k=='NB'","value":"#4a5858"},"value":"#a3124a"}}},
{"mark":{"type":"errorbar","extent":"stdev","ticks":{"size":12},"thickness":1.5},"encoding":{"color":{"condition":{"test":"datum.k=='AB'||datum.k=='NB'","value":"#7e8b8b"},"value":"#c9598b"}}},
{"data":{"name":"br"},"transform":[{"filter":"datum.p=='g'&&datum.s=='L'"}],"layer":[
{"mark":"rule","encoding":{"x":{"field":"a","type":"nominal"},"y":{"field":"ya","type":"quantitative"},"y2":{"field":"top"}}},
{"mark":"rule","encoding":{"x":{"field":"b","type":"nominal"},"y":{"field":"yb","type":"quantitative"},"y2":{"field":"top"}}},
{"mark":"rule","encoding":{"x":{"field":"a","type":"nominal"},"x2":{"field":"b"},"y":{"field":"top","type":"quantitative"}}},
{"mark":{"type":"text","dx":15,"dy":-4,"baseline":"bottom"},"encoding":{"x":{"field":"a","type":"nominal"},"y":{"field":"top","type":"quantitative"},"text":{"field":"lab"}}}
]}
]},
{"width":174,"height":168,"transform":[{"filter":"datum.p=='g'"}],
"encoding":{"x":{"field":"k","type":"nominal","scale":{"domain":["AB","AA","_","NB","NA"],"paddingInner":0.15,"paddingOuter":0.3},"axis":{"values":["AB","NB"],"labelExpr":"datum.value=='AB'?'10 min':['Non-','exposed']","tickOffset":16,"title":null}},
"y":{"field":"v","type":"quantitative","scale":{"domain":[0,15]},"axis":{"values":[0,5,10,15],"labels":false,"title":null,"minExtent":0}}},
"layer":[
{"mark":{"type":"bar","strokeWidth":2.5,"width":{"band":0.83}},"encoding":{"y":{"aggregate":"mean","field":"v","type":"quantitative"},"fill":{"condition":{"test":"datum.k=='AB'||datum.k=='NB'","value":"#1c1c1c"},"value":"#a3a3a3"},"stroke":{"condition":{"test":"datum.k=='AB'||datum.k=='NB'","value":"#595d5d"},"value":"#a8164d"}}},
{"mark":{"type":"circle","size":34,"strokeWidth":1.2,"opacity":1},"encoding":{"xOffset":{"field":"i","type":"nominal","scale":{"domain":[31,17,3,20,6,23,9,26,12,29,15,1,18,4,21,7,24,10,27,13,30,16,2,19,5,22,8,25,11,28,14]}},"fill":{"condition":{"test":"datum.k=='AB'||datum.k=='NB'","value":"#627272"},"value":"#e56c9f"},"stroke":{"condition":{"test":"datum.k=='AB'||datum.k=='NB'","value":"#4a5858"},"value":"#a3124a"}}},
{"mark":{"type":"errorbar","extent":"stdev","ticks":{"size":12},"thickness":1.5},"encoding":{"color":{"condition":{"test":"datum.k=='AB'||datum.k=='NB'","value":"#7e8b8b"},"value":"#c9598b"}}},
{"data":{"name":"br"},"transform":[{"filter":"datum.p=='g'&&datum.s=='R'"}],"layer":[
{"mark":"rule","encoding":{"x":{"field":"a","type":"nominal"},"y":{"field":"ya","type":"quantitative"},"y2":{"field":"top"}}},
{"mark":"rule","encoding":{"x":{"field":"b","type":"nominal"},"y":{"field":"yb","type":"quantitative"},"y2":{"field":"top"}}},
{"mark":"rule","encoding":{"x":{"field":"a","type":"nominal"},"x2":{"field":"b"},"y":{"field":"top","type":"quantitative"}}},
{"mark":{"type":"text","dx":16,"dy":-4,"baseline":"bottom"},"encoding":{"x":{"field":"a","type":"nominal"},"y":{"field":"top","type":"quantitative"},"text":{"field":"lab"}}}
]}
]}
]},
{"title":"h","spacing":5,"hconcat":[
{"width":176,"height":168,"transform":[{"filter":"datum.p=='h'"}],
"encoding":{"x":{"field":"k","type":"nominal","scale":{"domain":["AB","NB","_","AA","NA"],"paddingInner":0.1,"paddingOuter":0.49,"align":0.58},"axis":{"values":["AB","NB","AA","NA"],"labelExpr":"datum.value=='NB'||datum.value=='NA'?['Non-','exposed']:'20 min'","labelOffset":{"condition":{"test":"datum.value=='AB'||datum.value=='AA'","value":-4},"value":0},"title":null}},
"y":{"field":"v","type":"quantitative","scale":{"domain":[0,80]},"axis":{"values":[0,20,40,60,80],"title":"Time-average VCL (μm/s)"}}},
"layer":[
{"mark":{"type":"bar","strokeWidth":2.5,"width":{"band":0.83}},"encoding":{"y":{"aggregate":"mean","field":"v","type":"quantitative"},"fill":{"condition":{"test":"datum.k=='AB'||datum.k=='NB'","value":"#1c1c1c"},"value":"#a3a3a3"},"stroke":{"condition":{"test":"datum.k=='AB'||datum.k=='NB'","value":"#595d5d"},"value":"#a8164d"}}},
{"mark":{"type":"circle","size":34,"strokeWidth":1.2,"opacity":1},"encoding":{"xOffset":{"field":"i","type":"nominal","scale":{"domain":[31,17,3,20,6,23,9,26,12,29,15,1,18,4,21,7,24,10,27,13,30,16,2,19,5,22,8,25,11,28,14]}},"fill":{"condition":{"test":"datum.k=='AB'||datum.k=='NB'","value":"#627272"},"value":"#e56c9f"},"stroke":{"condition":{"test":"datum.k=='AB'||datum.k=='NB'","value":"#4a5858"},"value":"#a3124a"}}},
{"mark":{"type":"errorbar","extent":"stdev","ticks":{"size":12},"thickness":1.5},"encoding":{"color":{"condition":{"test":"datum.k=='AB'||datum.k=='NB'","value":"#7e8b8b"},"value":"#c9598b"}}},
{"data":{"name":"br"},"transform":[{"filter":"datum.p=='h'&&datum.s=='L'"}],"layer":[
{"mark":"rule","encoding":{"x":{"field":"a","type":"nominal"},"y":{"field":"ya","type":"quantitative"},"y2":{"field":"top"}}},
{"mark":"rule","encoding":{"x":{"field":"b","type":"nominal"},"y":{"field":"yb","type":"quantitative"},"y2":{"field":"top"}}},
{"mark":"rule","encoding":{"x":{"field":"a","type":"nominal"},"x2":{"field":"b"},"y":{"field":"top","type":"quantitative"}}},
{"mark":{"type":"text","dx":15,"dy":-4,"baseline":"bottom"},"encoding":{"x":{"field":"a","type":"nominal"},"y":{"field":"top","type":"quantitative"},"text":{"field":"lab"}}}
]}
]},
{"width":174,"height":168,"transform":[{"filter":"datum.p=='h'"}],
"encoding":{"x":{"field":"k","type":"nominal","scale":{"domain":["AB","AA","_","NB","NA"],"paddingInner":0.15,"paddingOuter":0.3},"axis":{"values":["AB","NB"],"labelExpr":"datum.value=='AB'?'20 min':['Non-','exposed']","tickOffset":16,"title":null}},
"y":{"field":"v","type":"quantitative","scale":{"domain":[0,80]},"axis":{"values":[0,20,40,60,80],"labels":false,"title":null,"minExtent":0}}},
"layer":[
{"mark":{"type":"bar","strokeWidth":2.5,"width":{"band":0.83}},"encoding":{"y":{"aggregate":"mean","field":"v","type":"quantitative"},"fill":{"condition":{"test":"datum.k=='AB'||datum.k=='NB'","value":"#1c1c1c"},"value":"#a3a3a3"},"stroke":{"condition":{"test":"datum.k=='AB'||datum.k=='NB'","value":"#595d5d"},"value":"#a8164d"}}},
{"mark":{"type":"circle","size":34,"strokeWidth":1.2,"opacity":1},"encoding":{"xOffset":{"field":"i","type":"nominal","scale":{"domain":[31,17,3,20,6,23,9,26,12,29,15,1,18,4,21,7,24,10,27,13,30,16,2,19,5,22,8,25,11,28,14]}},"fill":{"condition":{"test":"datum.k=='AB'||datum.k=='NB'","value":"#627272"},"value":"#e56c9f"},"stroke":{"condition":{"test":"datum.k=='AB'||datum.k=='NB'","value":"#4a5858"},"value":"#a3124a"}}},
{"mark":{"type":"errorbar","extent":"stdev","ticks":{"size":12},"thickness":1.5},"encoding":{"color":{"condition":{"test":"datum.k=='AB'||datum.k=='NB'","value":"#7e8b8b"},"value":"#c9598b"}}},
{"data":{"name":"br"},"transform":[{"filter":"datum.p=='h'&&datum.s=='R'"}],"layer":[
{"mark":"rule","encoding":{"x":{"field":"a","type":"nominal"},"y":{"field":"ya","type":"quantitative"},"y2":{"field":"top"}}},
{"mark":"rule","encoding":{"x":{"field":"b","type":"nominal"},"y":{"field":"yb","type":"quantitative"},"y2":{"field":"top"}}},
{"mark":"rule","encoding":{"x":{"field":"a","type":"nominal"},"x2":{"field":"b"},"y":{"field":"top","type":"quantitative"}}},
{"mark":{"type":"text","dx":16,"dy":-4,"baseline":"bottom"},"encoding":{"x":{"field":"a","type":"nominal"},"y":{"field":"top","type":"quantitative"},"text":{"field":"lab"}}}
]}
]}
]},
{"title":"i","spacing":5,"hconcat":[
{"width":176,"height":168,"transform":[{"filter":"datum.p=='i'"}],
"encoding":{"x":{"field":"k","type":"nominal","scale":{"domain":["AB","NB","_","AA","NA"],"paddingInner":0.1,"paddingOuter":0.49,"align":0.58},"axis":{"values":["AB","NB","AA","NA"],"labelExpr":"datum.value=='NB'||datum.value=='NA'?['Non-','exposed']:'20 min'","labelOffset":{"condition":{"test":"datum.value=='AB'||datum.value=='AA'","value":-4},"value":0},"title":null}},
"y":{"field":"v","type":"quantitative","scale":{"domain":[0,50]},"axis":{"values":[0,10,20,30,40,50],"title":"Time-average VAP (μm/s)"}}},
"layer":[
{"mark":{"type":"bar","strokeWidth":2.5,"width":{"band":0.83}},"encoding":{"y":{"aggregate":"mean","field":"v","type":"quantitative"},"fill":{"condition":{"test":"datum.k=='AB'||datum.k=='NB'","value":"#1c1c1c"},"value":"#a3a3a3"},"stroke":{"condition":{"test":"datum.k=='AB'||datum.k=='NB'","value":"#595d5d"},"value":"#a8164d"}}},
{"mark":{"type":"circle","size":34,"strokeWidth":1.2,"opacity":1},"encoding":{"xOffset":{"field":"i","type":"nominal","scale":{"domain":[31,17,3,20,6,23,9,26,12,29,15,1,18,4,21,7,24,10,27,13,30,16,2,19,5,22,8,25,11,28,14]}},"fill":{"condition":{"test":"datum.k=='AB'||datum.k=='NB'","value":"#627272"},"value":"#e56c9f"},"stroke":{"condition":{"test":"datum.k=='AB'||datum.k=='NB'","value":"#4a5858"},"value":"#a3124a"}}},
{"mark":{"type":"errorbar","extent":"stdev","ticks":{"size":12},"thickness":1.5},"encoding":{"color":{"condition":{"test":"datum.k=='AB'||datum.k=='NB'","value":"#7e8b8b"},"value":"#c9598b"}}},
{"data":{"name":"br"},"transform":[{"filter":"datum.p=='i'&&datum.s=='L'"}],"layer":[
{"mark":"rule","encoding":{"x":{"field":"a","type":"nominal"},"y":{"field":"ya","type":"quantitative"},"y2":{"field":"top"}}},
{"mark":"rule","encoding":{"x":{"field":"b","type":"nominal"},"y":{"field":"yb","type":"quantitative"},"y2":{"field":"top"}}},
{"mark":"rule","encoding":{"x":{"field":"a","type":"nominal"},"x2":{"field":"b"},"y":{"field":"top","type":"quantitative"}}},
{"mark":{"type":"text","dx":15,"dy":-4,"baseline":"bottom"},"encoding":{"x":{"field":"a","type":"nominal"},"y":{"field":"top","type":"quantitative"},"text":{"field":"lab"}}}
]}
]},
{"width":174,"height":168,"transform":[{"filter":"datum.p=='i'"}],
"encoding":{"x":{"field":"k","type":"nominal","scale":{"domain":["AB","AA","_","NB","NA"],"paddingInner":0.15,"paddingOuter":0.3},"axis":{"values":["AB","NB"],"labelExpr":"datum.value=='AB'?'20 min':['Non-','exposed']","tickOffset":16,"title":null}},
"y":{"field":"v","type":"quantitative","scale":{"domain":[0,50]},"axis":{"values":[0,10,20,30,40,50],"labels":false,"title":null,"minExtent":0}}},
"layer":[
{"mark":{"type":"bar","strokeWidth":2.5,"width":{"band":0.83}},"encoding":{"y":{"aggregate":"mean","field":"v","type":"quantitative"},"fill":{"condition":{"test":"datum.k=='AB'||datum.k=='NB'","value":"#1c1c1c"},"value":"#a3a3a3"},"stroke":{"condition":{"test":"datum.k=='AB'||datum.k=='NB'","value":"#595d5d"},"value":"#a8164d"}}},
{"mark":{"type":"circle","size":34,"strokeWidth":1.2,"opacity":1},"encoding":{"xOffset":{"field":"i","type":"nominal","scale":{"domain":[31,17,3,20,6,23,9,26,12,29,15,1,18,4,21,7,24,10,27,13,30,16,2,19,5,22,8,25,11,28,14]}},"fill":{"condition":{"test":"datum.k=='AB'||datum.k=='NB'","value":"#627272"},"value":"#e56c9f"},"stroke":{"condition":{"test":"datum.k=='AB'||datum.k=='NB'","value":"#4a5858"},"value":"#a3124a"}}},
{"mark":{"type":"errorbar","extent":"stdev","ticks":{"size":12},"thickness":1.5},"encoding":{"color":{"condition":{"test":"datum.k=='AB'||datum.k=='NB'","value":"#7e8b8b"},"value":"#c9598b"}}},
{"data":{"name":"br"},"transform":[{"filter":"datum.p=='i'&&datum.s=='R'"}],"layer":[
{"mark":"rule","encoding":{"x":{"field":"a","type":"nominal"},"y":{"field":"ya","type":"quantitative"},"y2":{"field":"top"}}},
{"mark":"rule","encoding":{"x":{"field":"b","type":"nominal"},"y":{"field":"yb","type":"quantitative"},"y2":{"field":"top"}}},
{"mark":"rule","encoding":{"x":{"field":"a","type":"nominal"},"x2":{"field":"b"},"y":{"field":"top","type":"quantitative"}}},
{"mark":{"type":"text","dx":16,"dy":-4,"baseline":"bottom"},"encoding":{"x":{"field":"a","type":"nominal"},"y":{"field":"top","type":"quantitative"},"text":{"field":"lab"}}}
]}
]}
]}
]},
{"spacing":8,"hconcat":[
{"title":"j","spacing":5,"hconcat":[
{"width":176,"height":168,"transform":[{"filter":"datum.p=='j'"}],
"encoding":{"x":{"field":"k","type":"nominal","scale":{"domain":["AB","NB","_","AA","NA"],"paddingInner":0.1,"paddingOuter":0.49,"align":0.58},"axis":{"values":["AB","NB","AA","NA"],"labelExpr":"datum.value=='NB'||datum.value=='NA'?['Non-','exposed']:'20 min'","labelOffset":{"condition":{"test":"datum.value=='AB'||datum.value=='AA'","value":-4},"value":0},"title":null}},
"y":{"field":"v","type":"quantitative","scale":{"domain":[0,5]},"axis":{"values":[0,1,2,3,4,5],"title":"Time-average ALH (μm)"}}},
"layer":[
{"mark":{"type":"bar","strokeWidth":2.5,"width":{"band":0.83}},"encoding":{"y":{"aggregate":"mean","field":"v","type":"quantitative"},"fill":{"condition":{"test":"datum.k=='AB'||datum.k=='NB'","value":"#1c1c1c"},"value":"#a3a3a3"},"stroke":{"condition":{"test":"datum.k=='AB'||datum.k=='NB'","value":"#595d5d"},"value":"#a8164d"}}},
{"mark":{"type":"circle","size":34,"strokeWidth":1.2,"opacity":1},"encoding":{"xOffset":{"field":"i","type":"nominal","scale":{"domain":[31,17,3,20,6,23,9,26,12,29,15,1,18,4,21,7,24,10,27,13,30,16,2,19,5,22,8,25,11,28,14]}},"fill":{"condition":{"test":"datum.k=='AB'||datum.k=='NB'","value":"#627272"},"value":"#e56c9f"},"stroke":{"condition":{"test":"datum.k=='AB'||datum.k=='NB'","value":"#4a5858"},"value":"#a3124a"}}},
{"mark":{"type":"errorbar","extent":"stdev","ticks":{"size":12},"thickness":1.5},"encoding":{"color":{"condition":{"test":"datum.k=='AB'||datum.k=='NB'","value":"#7e8b8b"},"value":"#c9598b"}}},
{"data":{"name":"br"},"transform":[{"filter":"datum.p=='j'&&datum.s=='L'"}],"layer":[
{"mark":"rule","encoding":{"x":{"field":"a","type":"nominal"},"y":{"field":"ya","type":"quantitative"},"y2":{"field":"top"}}},
{"mark":"rule","encoding":{"x":{"field":"b","type":"nominal"},"y":{"field":"yb","type":"quantitative"},"y2":{"field":"top"}}},
{"mark":"rule","encoding":{"x":{"field":"a","type":"nominal"},"x2":{"field":"b"},"y":{"field":"top","type":"quantitative"}}},
{"mark":{"type":"text","dx":15,"dy":-4,"baseline":"bottom"},"encoding":{"x":{"field":"a","type":"nominal"},"y":{"field":"top","type":"quantitative"},"text":{"field":"lab"}}}
]}
]},
{"width":174,"height":168,"transform":[{"filter":"datum.p=='j'"}],
"encoding":{"x":{"field":"k","type":"nominal","scale":{"domain":["AB","AA","_","NB","NA"],"paddingInner":0.15,"paddingOuter":0.3},"axis":{"values":["AB","NB"],"labelExpr":"datum.value=='AB'?'20 min':['Non-','exposed']","tickOffset":16,"title":null}},
"y":{"field":"v","type":"quantitative","scale":{"domain":[0,5]},"axis":{"values":[0,1,2,3,4,5],"labels":false,"title":null,"minExtent":0}}},
"layer":[
{"mark":{"type":"bar","strokeWidth":2.5,"width":{"band":0.83}},"encoding":{"y":{"aggregate":"mean","field":"v","type":"quantitative"},"fill":{"condition":{"test":"datum.k=='AB'||datum.k=='NB'","value":"#1c1c1c"},"value":"#a3a3a3"},"stroke":{"condition":{"test":"datum.k=='AB'||datum.k=='NB'","value":"#595d5d"},"value":"#a8164d"}}},
{"mark":{"type":"circle","size":34,"strokeWidth":1.2,"opacity":1},"encoding":{"xOffset":{"field":"i","type":"nominal","scale":{"domain":[31,17,3,20,6,23,9,26,12,29,15,1,18,4,21,7,24,10,27,13,30,16,2,19,5,22,8,25,11,28,14]}},"fill":{"condition":{"test":"datum.k=='AB'||datum.k=='NB'","value":"#627272"},"value":"#e56c9f"},"stroke":{"condition":{"test":"datum.k=='AB'||datum.k=='NB'","value":"#4a5858"},"value":"#a3124a"}}},
{"mark":{"type":"errorbar","extent":"stdev","ticks":{"size":12},"thickness":1.5},"encoding":{"color":{"condition":{"test":"datum.k=='AB'||datum.k=='NB'","value":"#7e8b8b"},"value":"#c9598b"}}},
{"data":{"name":"br"},"transform":[{"filter":"datum.p=='j'&&datum.s=='R'"}],"layer":[
{"mark":"rule","encoding":{"x":{"field":"a","type":"nominal"},"y":{"field":"ya","type":"quantitative"},"y2":{"field":"top"}}},
{"mark":"rule","encoding":{"x":{"field":"b","type":"nominal"},"y":{"field":"yb","type":"quantitative"},"y2":{"field":"top"}}},
{"mark":"rule","encoding":{"x":{"field":"a","type":"nominal"},"x2":{"field":"b"},"y":{"field":"top","type":"quantitative"}}},
{"mark":{"type":"text","dx":16,"dy":-4,"baseline":"bottom"},"encoding":{"x":{"field":"a","type":"nominal"},"y":{"field":"top","type":"quantitative"},"text":{"field":"lab"}}}
]}
]}
]},
{"title":"k","spacing":5,"hconcat":[
{"width":176,"height":168,"transform":[{"filter":"datum.p=='k'"}],
"encoding":{"x":{"field":"k","type":"nominal","scale":{"domain":["AB","NB","_","AA","NA"],"paddingInner":0.1,"paddingOuter":0.49,"align":0.58},"axis":{"values":["AB","NB","AA","NA"],"labelExpr":"datum.value=='NB'||datum.value=='NA'?['Non-','exposed']:'20 min'","labelOffset":{"condition":{"test":"datum.value=='AB'||datum.value=='AA'","value":-4},"value":0},"title":null}},
"y":{"field":"v","type":"quantitative","scale":{"domain":[0,15]},"axis":{"values":[0,5,10,15],"title":"Time-average BCF (Hz)"}}},
"layer":[
{"mark":{"type":"bar","strokeWidth":2.5,"width":{"band":0.83}},"encoding":{"y":{"aggregate":"mean","field":"v","type":"quantitative"},"fill":{"condition":{"test":"datum.k=='AB'||datum.k=='NB'","value":"#1c1c1c"},"value":"#a3a3a3"},"stroke":{"condition":{"test":"datum.k=='AB'||datum.k=='NB'","value":"#595d5d"},"value":"#a8164d"}}},
{"mark":{"type":"circle","size":34,"strokeWidth":1.2,"opacity":1},"encoding":{"xOffset":{"field":"i","type":"nominal","scale":{"domain":[31,17,3,20,6,23,9,26,12,29,15,1,18,4,21,7,24,10,27,13,30,16,2,19,5,22,8,25,11,28,14]}},"fill":{"condition":{"test":"datum.k=='AB'||datum.k=='NB'","value":"#627272"},"value":"#e56c9f"},"stroke":{"condition":{"test":"datum.k=='AB'||datum.k=='NB'","value":"#4a5858"},"value":"#a3124a"}}},
{"mark":{"type":"errorbar","extent":"stdev","ticks":{"size":12},"thickness":1.5},"encoding":{"color":{"condition":{"test":"datum.k=='AB'||datum.k=='NB'","value":"#7e8b8b"},"value":"#c9598b"}}},
{"data":{"name":"br"},"transform":[{"filter":"datum.p=='k'&&datum.s=='L'"}],"layer":[
{"mark":"rule","encoding":{"x":{"field":"a","type":"nominal"},"y":{"field":"ya","type":"quantitative"},"y2":{"field":"top"}}},
{"mark":"rule","encoding":{"x":{"field":"b","type":"nominal"},"y":{"field":"yb","type":"quantitative"},"y2":{"field":"top"}}},
{"mark":"rule","encoding":{"x":{"field":"a","type":"nominal"},"x2":{"field":"b"},"y":{"field":"top","type":"quantitative"}}},
{"mark":{"type":"text","dx":15,"dy":-4,"baseline":"bottom"},"encoding":{"x":{"field":"a","type":"nominal"},"y":{"field":"top","type":"quantitative"},"text":{"field":"lab"}}}
]}
]},
{"width":174,"height":168,"transform":[{"filter":"datum.p=='k'"}],
"encoding":{"x":{"field":"k","type":"nominal","scale":{"domain":["AB","AA","_","NB","NA"],"paddingInner":0.15,"paddingOuter":0.3},"axis":{"values":["AB","NB"],"labelExpr":"datum.value=='AB'?'20 min':['Non-','exposed']","tickOffset":16,"title":null}},
"y":{"field":"v","type":"quantitative","scale":{"domain":[0,15]},"axis":{"values":[0,5,10,15],"labels":false,"title":null,"minExtent":0}}},
"layer":[
{"mark":{"type":"bar","strokeWidth":2.5,"width":{"band":0.83}},"encoding":{"y":{"aggregate":"mean","field":"v","type":"quantitative"},"fill":{"condition":{"test":"datum.k=='AB'||datum.k=='NB'","value":"#1c1c1c"},"value":"#a3a3a3"},"stroke":{"condition":{"test":"datum.k=='AB'||datum.k=='NB'","value":"#595d5d"},"value":"#a8164d"}}},
{"mark":{"type":"circle","size":34,"strokeWidth":1.2,"opacity":1},"encoding":{"xOffset":{"field":"i","type":"nominal","scale":{"domain":[31,17,3,20,6,23,9,26,12,29,15,1,18,4,21,7,24,10,27,13,30,16,2,19,5,22,8,25,11,28,14]}},"fill":{"condition":{"test":"datum.k=='AB'||datum.k=='NB'","value":"#627272"},"value":"#e56c9f"},"stroke":{"condition":{"test":"datum.k=='AB'||datum.k=='NB'","value":"#4a5858"},"value":"#a3124a"}}},
{"mark":{"type":"errorbar","extent":"stdev","ticks":{"size":12},"thickness":1.5},"encoding":{"color":{"condition":{"test":"datum.k=='AB'||datum.k=='NB'","value":"#7e8b8b"},"value":"#c9598b"}}},
{"data":{"name":"br"},"transform":[{"filter":"datum.p=='k'&&datum.s=='R'"}],"layer":[
{"mark":"rule","encoding":{"x":{"field":"a","type":"nominal"},"y":{"field":"ya","type":"quantitative"},"y2":{"field":"top"}}},
{"mark":"rule","encoding":{"x":{"field":"b","type":"nominal"},"y":{"field":"yb","type":"quantitative"},"y2":{"field":"top"}}},
{"mark":"rule","encoding":{"x":{"field":"a","type":"nominal"},"x2":{"field":"b"},"y":{"field":"top","type":"quantitative"}}},
{"mark":{"type":"text","dx":16,"dy":-4,"baseline":"bottom"},"encoding":{"x":{"field":"a","type":"nominal"},"y":{"field":"top","type":"quantitative"},"text":{"field":"lab"}}}
]}
]}
]},
{"width":34,"height":168,
"data":{"values":[
{"ln":1,"s":"B","txt":"Before Exposure,"},
{"ln":2,"txt":"(0 ≤ t ≤ 10 for 10-min setup and non-exposed,"},
{"ln":3,"txt":"0 ≤ t ≤ 20 for 20-min setup and non-exposed)"},
{"ln":5,"s":"A","txt":"After Exposure,"},
{"ln":6,"txt":"(10 ≤ t ≤ 60 for 10-min setup and non-exposed,"},
{"ln":7,"txt":"20 ≤ t ≤ 60 for 20-min setup and non-exposed)"}]},
"encoding":{"y":{"field":"ln","type":"quantitative","scale":{"domain":[-0.95,6.95],"reverse":true,"nice":false,"zero":false},"axis":null}},
"layer":[
{"transform":[{"filter":"isValid(datum.s)"}],"mark":{"type":"circle","size":170,"strokeWidth":3.5,"opacity":1},"encoding":{"fill":{"condition":{"test":"datum.s=='B'","value":"#4db3c9"},"value":"#ef72a8"},"stroke":{"condition":{"test":"datum.s=='B'","value":"#505656"},"value":"#8c1140"}}},
{"mark":{"type":"text","align":"left","dx":18,"fontSize":15,"baseline":"middle","color":"#333"},"encoding":{"text":{"field":"txt"}}}
]}
]}
]
}
